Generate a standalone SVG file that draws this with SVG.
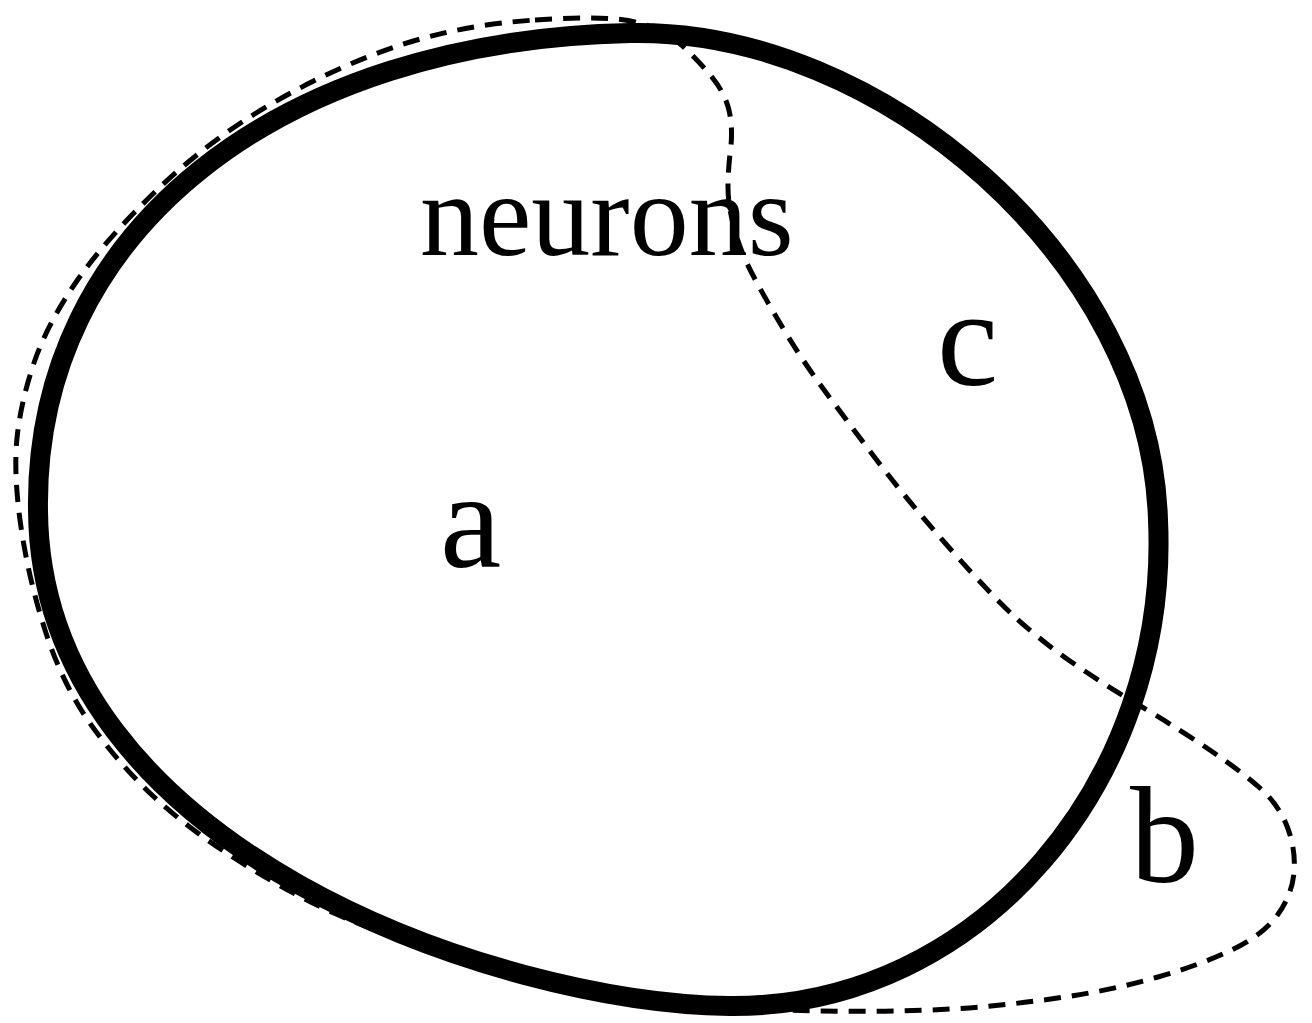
<svg xmlns="http://www.w3.org/2000/svg" width="1312" height="1023" viewBox="0 0 1312 1023">
<style>
.lbl{font-family:"Liberation Serif","Times New Roman",serif;fill:#000}
.dash{fill:none;stroke:#000;stroke-width:5;stroke-dasharray:17 11}
.solid{fill:none;stroke:#000;stroke-width:20;stroke-linejoin:round}
</style>
<rect width="1312" height="1023" fill="#fff"/>
<g id="connectors">
<path id="dashed-set" class="dash" d="M535,20 Q610,15 637.5,22.5 Q665,30 682.5,46 Q700,62 713,78.5 Q726,95 729.5,112.5 Q733,130 730.5,150 Q728,170 728,187.5 Q728,205 734,227.5 Q740,250 751,271.5 Q762,293 782,326.5 Q802,360 823,388.5 Q844,417 875.5,458.5 Q907,500 949,547.5 Q991,595 1015.5,617.5 Q1040,640 1070,661 Q1100,682 1139.5,705.5 Q1179,729 1210.5,750.5 Q1242,772 1260.5,788.5 Q1279,805 1287.5,827.5 Q1296,850 1294,872.5 Q1292,895 1277.5,915 Q1263,935 1231.5,950 Q1200,965 1158,977 Q1116,989 1074.5,995.5 Q1033,1002 991,1006 Q949,1010 896.5,1011 Q844,1012 782,1010 Q720,1008 653,999 Q586,990 512.5,971 Q439,952 408,942 Q377,932 335,913.5 Q293,895 240.5,862 Q188,829 152.5,795.5 Q117,762 89.5,722.5 Q62,683 45,630 Q28,577 20.5,523.5 Q13,470 17.5,433.5 Q22,397 35,360 Q48,323 76.5,281.5 Q105,240 157,190 Q209,140 272,103.5 Q335,67 397.5,46 Q460,25 535,20 Z"/>
</g>
<g id="neurons-set">
<path class="solid" d="M630,33 C880,28 1150,260 1158,520 C1170,780 980,1008 730,1006 C500,1003 40,850 38,510 C34,230 280,40 630,33 Z"/>
<text class="lbl" x="420" y="255" font-size="118">neurons</text>
</g>
<g id="region-a"><text class="lbl" x="440" y="567" font-size="138">a</text></g>
<g id="region-b"><text class="lbl" x="1130" y="882" font-size="138">b</text></g>
<g id="region-c"><text class="lbl" x="937" y="385" font-size="138">c</text></g>
</svg>
